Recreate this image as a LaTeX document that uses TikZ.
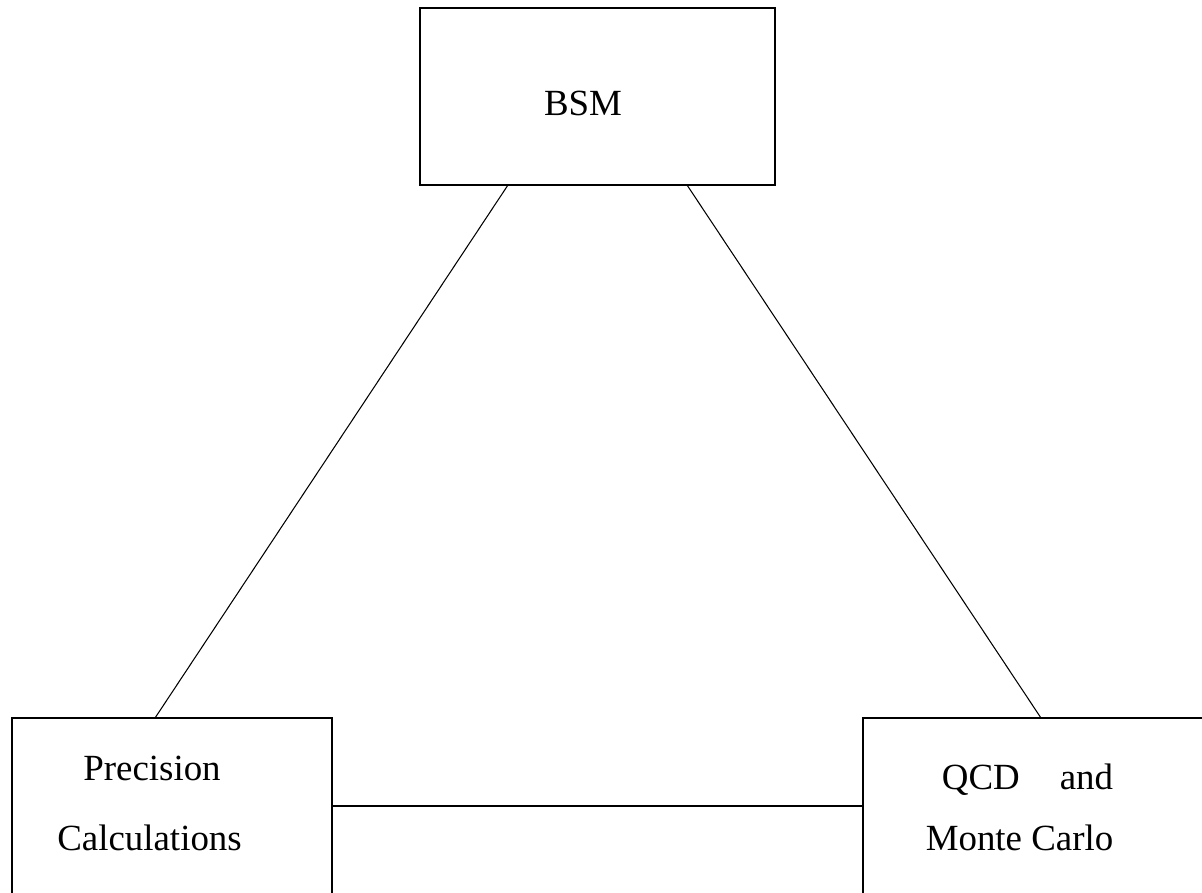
\documentclass[tikz,border=0pt]{standalone}
\usepackage{fontspec}
\setmainfont{Liberation Serif}
\usepackage{tikz}

\begin{document}
\begin{tikzpicture}[x=0.02cm,y=-0.02cm,
    box/.style={draw, line width=0.8pt, inner sep=0pt, outer sep=0pt},
    lbl/.style={anchor=base, inner sep=0pt, font=\fontsize{21}{25}\selectfont},
    link/.style={line width=0.6pt}]

\useasboundingbox (0,0) rectangle (1202,892);

\node [box, minimum width=7.1cm, minimum height=3.54cm] (bsm)  at (597.5,96.5) {};
\node [box, minimum width=6.4cm, minimum height=3.52cm] (prec) at (172,806)    {};
\node [box, minimum width=7.1cm, minimum height=3.52cm] (qcd)  at (1040.5,806) {};

\node [lbl] (bsmtext) at (583,115)    {BSM};
\node [lbl] (prectop) at (152,780)    {Precision};
\node [lbl] (precbot) at (149.5,850)  {Calculations};
\node [lbl] (qcdtop)  at (1027.5,789) {QCD\hspace{0.8cm}and};
\node [lbl] (qcdbot)  at (1019.5,850) {Monte Carlo};

\draw [link] ([xshift=1.76cm]bsm.south west)  -- ([xshift=-0.34cm]prec.north);
\draw [link] ([xshift=-1.76cm]bsm.south east) -- ([xshift=3.56cm]qcd.north west);
\draw [link] (prec.east) -- (qcd.west);

\end{tikzpicture}
\end{document}
